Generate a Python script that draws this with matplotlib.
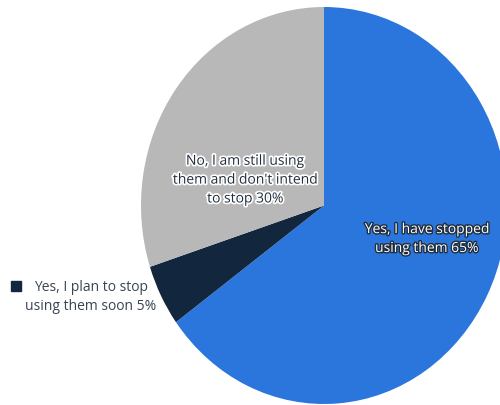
import matplotlib.pyplot as plt
import matplotlib.patheffects as pe

plt.rcParams['font.family'] = ['Open Sans', 'DejaVu Sans']

categories = [
    "Yes, I have stopped\nusing them",
    "Yes, I plan to stop\nusing them soon",
    "No, I am still using\nthem and don't intend\nto stop",
]
values = [65, 5, 30]
colors = ["#2a76dd", "#12263d", "#b8b8b8"]

fig = plt.figure(figsize=(5, 4.05), dpi=100)
ax = fig.add_axes([0, 0, 1, 1])

ax.pie(values, colors=colors, startangle=90, counterclock=False,
       radius=1, center=(0, 0), wedgeprops=dict(linewidth=0))

# slightly taller than wide, right edge runs off the canvas
ax.set_aspect('auto')
ax.set_xlim(-324 / 183, 176 / 183)
ax.set_ylim(-199.5 / 198.5, 205.5 / 198.5)
ax.axis('off')

labels = [f"{c} {v}%" for c, v in zip(categories, values)]

# 65% slice: white text with dark edge
ax.text(0.563, -0.169, labels[0], ha='center', va='center', fontsize=10,
        color='white', linespacing=1.35,
        path_effects=[pe.withStroke(linewidth=2, foreground='#1f2d3d')])

# 30% slice: dark text with white halo
ax.text(-0.43, 0.128, labels[2], ha='center', va='center', fontsize=10,
        color='#1f2d3d', linespacing=1.35,
        path_effects=[pe.withStroke(linewidth=2.5, foreground='white')])

# 5% slice labelled outside with a colour key
ax.plot([-1.683], [-0.406], marker='s', markersize=7, color=colors[1],
        clip_on=False)
ax.text(-1.273, -0.461, labels[1], ha='center', va='center', fontsize=10,
        color='#3a4452', linespacing=1.35)

fig.savefig("out.png", dpi=100)
